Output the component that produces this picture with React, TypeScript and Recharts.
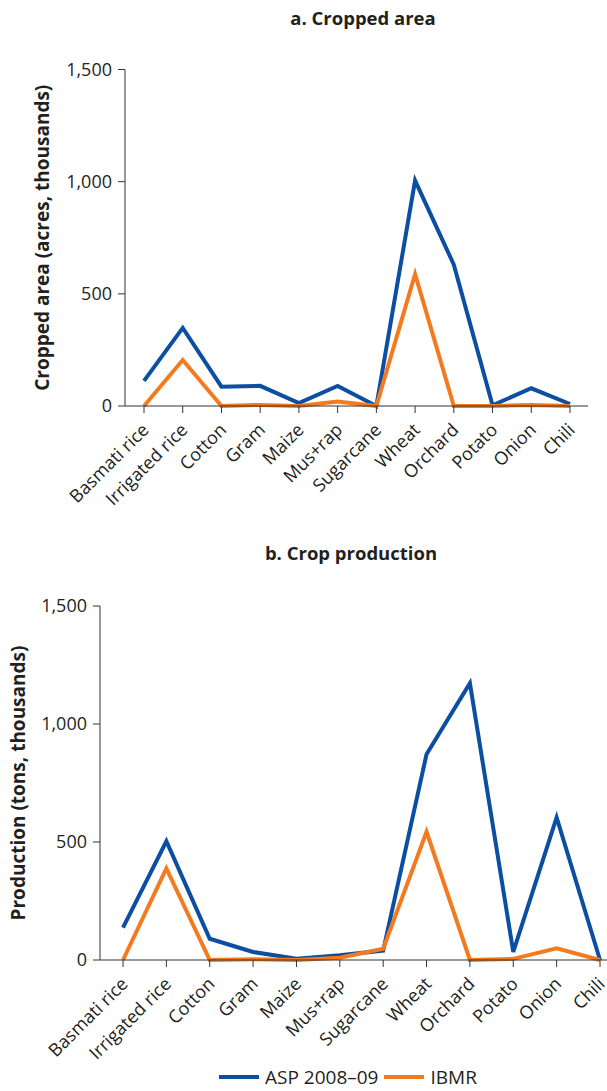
import React from 'react';
import { LineChart, Line, XAxis, YAxis, Legend } from 'recharts';

const categories = ['Basmati rice', 'Irrigated rice', 'Cotton', 'Gram', 'Maize', 'Mus+rap', 'Sugarcane', 'Wheat', 'Orchard', 'Potato', 'Onion', 'Chili'];
const areaAsp = [112, 348, 86, 90, 13, 89, 0, 1005, 630, 3, 79, 9];
const areaIbmr = [0, 205, 0, 5, 0, 20, 0, 588, 0, 0, 5, 0];
const prodAsp = [137, 503, 90, 34, 5, 20, 40, 872, 1173, 34, 604, 0];
const prodIbmr = [0, 388, 0, 3, 0, 10, 48, 543, 0, 5, 50, 0];
const yTicks = [0, 500, 1000, 1500];
const seriesNames = ['ASP 2008–09', 'IBMR'];

const BLUE = '#0B4EA2';
const ORANGE = '#F47A20';
const TEXT = '#231F20';
const AXIS = '#333333';
const FONT = '"Open Sans", sans-serif';

const areaData = categories.map((c, i) => ({ name: c, asp: areaAsp[i], ibmr: areaIbmr[i] }));
const prodData = categories.map((c, i) => ({ name: c, asp: prodAsp[i], ibmr: prodIbmr[i] }));

const fmt = (v: number) => v.toLocaleString('en-US');

const XTick = (props: any) => {
  const { x, y, payload } = props;
  return (
    <g transform={`translate(${x + 6},${y + 16})`}>
      <text x={0} y={0} textAnchor="end" transform="rotate(-45)" fill={TEXT} fontSize={18} fontFamily={FONT}>
        {payload.value}
      </text>
    </g>
  );
};

const LegendContent = (props: any) => {
  const { payload } = props;
  return (
    <div style={{ display: 'flex', alignItems: 'center', marginLeft: 219, height: 22, fontFamily: FONT, fontSize: 19, color: TEXT }}>
      {(payload || []).map((p: any, i: number) => (
        <div key={i} style={{ display: 'flex', alignItems: 'center', marginRight: 6 }}>
          <svg width={40} height={10} style={{ marginRight: 6 }}>
            <line x1={0} y1={5} x2={40} y2={5} stroke={p.color} strokeWidth={4} />
          </svg>
          <span style={{ lineHeight: '22px' }}>{p.value}</span>
        </div>
      ))}
    </div>
  );
};

const titleStyle: React.CSSProperties = {
  position: 'absolute',
  fontFamily: FONT,
  fontWeight: 700,
  fontSize: 18.5,
  color: TEXT,
  whiteSpace: 'nowrap',
  transform: 'translateX(-50%)',
};

const tickStyle = { fill: TEXT, fontSize: 18, fontFamily: FONT };
const labelStyle = { fontFamily: FONT, fontWeight: 700, fontSize: 19, fill: TEXT };

export default function App() {
  return (
    <div style={{ position: 'absolute', left: 0, top: 0, width: 607, height: 1091, background: '#fff', overflow: 'hidden' }}>
      <div style={{ position: 'absolute', left: 0, top: 0 }}>
        <LineChart width={607} height={530} data={areaData} margin={{ top: 69.5, right: 19, bottom: 34, left: 65 }}>
          <XAxis
            dataKey="name"
            interval={0}
            height={90}
            padding={{ left: 19, right: 18 }}
            tick={<XTick />}
            tickSize={7}
            axisLine={{ stroke: AXIS }}
            tickLine={{ stroke: AXIS }}
          />
          <YAxis
            width={60}
            domain={[0, 1500]}
            ticks={yTicks}
            tickFormatter={fmt}
            tickSize={7}
            tickMargin={6}
            axisLine={{ stroke: AXIS }}
            tickLine={{ stroke: AXIS }}
            tick={tickStyle}
            label={{ value: 'Cropped area (acres, thousands)', angle: -90, position: 'center', dx: -53, style: labelStyle }}
          />
          <Line dataKey="asp" name={seriesNames[0]} stroke={BLUE} strokeWidth={4} dot={false} isAnimationActive={false} />
          <Line dataKey="ibmr" name={seriesNames[1]} stroke={ORANGE} strokeWidth={4} dot={false} isAnimationActive={false} />
        </LineChart>
      </div>

      <div style={{ position: 'absolute', left: 0, top: 530 }}>
        <LineChart width={607} height={561} data={prodData} margin={{ top: 76, right: 0, bottom: 3, left: 40 }}>
          <XAxis
            dataKey="name"
            interval={0}
            height={106}
            padding={{ left: 23, right: 7 }}
            tick={<XTick />}
            tickSize={7}
            axisLine={{ stroke: AXIS }}
            tickLine={{ stroke: AXIS }}
          />
          <YAxis
            width={60}
            domain={[0, 1500]}
            ticks={yTicks}
            tickFormatter={fmt}
            tickSize={7}
            tickMargin={6}
            axisLine={{ stroke: AXIS }}
            tickLine={{ stroke: AXIS }}
            tick={tickStyle}
            label={{ value: 'Production (tons, thousands)', angle: -90, position: 'center', dx: -52, style: labelStyle }}
          />
          <Legend verticalAlign="bottom" content={<LegendContent />} wrapperStyle={{ left: 0, width: 607 }} />
          <Line dataKey="asp" name={seriesNames[0]} stroke={BLUE} strokeWidth={4} dot={false} isAnimationActive={false} />
          <Line dataKey="ibmr" name={seriesNames[1]} stroke={ORANGE} strokeWidth={4} dot={false} isAnimationActive={false} />
        </LineChart>
      </div>

      <div style={{ ...titleStyle, left: 363, top: 5 }}>a. Cropped area</div>
      <div style={{ ...titleStyle, left: 351, top: 540 }}>b. Crop production</div>
    </div>
  );
}
